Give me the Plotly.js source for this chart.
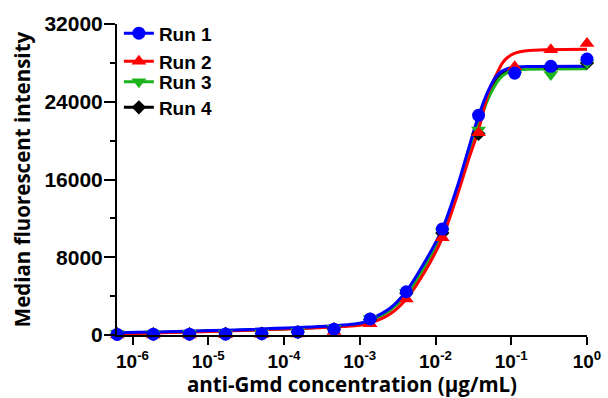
<!DOCTYPE html>
<html>
<head>
<meta charset="utf-8">
<script src="https://cdn.plot.ly/plotly-3.0.1.min.js"></script>
<style>html,body{margin:0;padding:0;background:#fff;}#chart{width:608px;height:398px;}</style>
</head>
<body>
<div id="chart"></div>
<script>
// Concentrations (µg/mL), 3-fold dilution series
var conc = [6.27e-7, 1.88e-6, 5.65e-6, 1.69e-5, 5.08e-5, 1.52e-4, 4.57e-4, 1.37e-3, 4.12e-3, 1.23e-2, 3.70e-2, 0.111, 0.333, 1];
var run1 = [60, 80, 90, 100, 130, 300, 600, 1650, 4450, 10900, 22600, 26950, 27650, 28400];
var run2 = [0, 0, 0, 20, 40, 100, 350, 1150, 3700, 10000, 20800, 27600, 29350, 30000];
var run3 = [150, 150, 150, 160, 200, 350, 700, 1700, 4400, 10600, 21100, 26900, 26800, 28000];
var run4 = [100, 100, 100, 120, 150, 300, 600, 1600, 4300, 10500, 20700, 27000, 27400, 28000];

// Fitted curves
var fitX = [6.3e-7, 1.0e-3, 1.41e-3, 2.51e-3, 4.07e-3, 7.08e-3, 1.23e-2, 2.0e-2, 2.69e-2, 3.72e-2, 5.01e-2, 6.46e-2, 7.59e-2, 8.91e-2, 0.112, 0.158, 1];
var fit1 = [240, 1200, 1650, 2750, 4450, 7400, 10900, 15600, 19000, 22600, 25200, 26700, 27150, 27400, 27550, 27620, 27650];
var fit2 = [100, 1000, 1250, 2150, 3650, 6400, 10000, 14700, 17900, 21200, 25000, 26900, 27950, 28550, 29000, 29250, 29400];
var fit3 = [160, 1100, 1500, 2550, 4100, 6900, 10400, 15000, 18300, 21700, 24400, 26000, 26650, 27000, 27250, 27350, 27400];
var fit4 = [150, 1100, 1500, 2600, 4200, 7000, 10600, 15200, 18500, 21900, 24600, 26200, 26850, 27200, 27400, 27500, 27550];

var names = ['Run 1', 'Run 2', 'Run 3', 'Run 4'];
var colors = ['#0000FF', '#FF0000', '#1DB31D', '#000000'];
var symbols = ['circle', 'triangle-up', 'triangle-down', 'diamond'];
var sizes = [13, 13, 13, 11];
var pts = [run1, run2, run3, run4];
var fits = [fit1, fit2, fit3, fit4];

var xTickVals = [1e-6, 1e-5, 1e-4, 1e-3, 1e-2, 1e-1, 1];
var xTickText = ['10<sup>-6</sup>', '10<sup>-5</sup>', '10<sup>-4</sup>', '10<sup>-3</sup>', '10<sup>-2</sup>', '10<sup>-1</sup>', '10<sup>0</sup>'];
var yTickVals = [0, 8000, 16000, 24000, 32000];
var yMinorVals = [4000, 12000, 20000, 28000];

var traces = [];
for (var i = 3; i >= 0; i--) {
  traces.push({x: fitX, y: fits[i], type: 'scatter', mode: 'lines', line: {color: colors[i], width: 3, shape: 'spline', smoothing: 0.8}, showlegend: false, hoverinfo: 'skip'});
}
for (var i = 3; i >= 0; i--) {
  traces.push({x: conc, y: pts[i], type: 'scatter', mode: 'markers', cliponaxis: false, marker: {color: colors[i], symbol: symbols[i], size: sizes[i]}, showlegend: false, name: names[i]});
}
var legNames = ['legend', 'legend2', 'legend3', 'legend4'];
for (var i = 0; i < 4; i++) {
  traces.push({x: [null], y: [null], type: 'scatter', mode: 'lines+markers', name: '<b>' + names[i] + '</b>', legend: legNames[i],
    line: {color: colors[i], width: 3}, marker: {color: colors[i], symbol: symbols[i], size: sizes[i]}});
}

var tickFontX = {family: 'Liberation Sans, Arial, sans-serif', size: 19, color: '#000', weight: 'bold'};
var tickFontY = {family: 'Liberation Sans, Arial, sans-serif', size: 21, color: '#000', weight: 'bold'};
var titleFont = {family: 'Open Sans, sans-serif', size: 20.5, color: '#000', weight: 'bold'};
var legFont = {family: 'Liberation Sans, Arial, sans-serif', size: 19, color: '#000', weight: 'bold'};

function leg(yp) {
  return {x: 0.004, y: yp, xanchor: 'left', yanchor: 'middle', bgcolor: 'rgba(0,0,0,0)', font: legFont, borderwidth: 0};
}

var layout = {
  width: 608, height: 398,
  margin: {l: 117, r: 21, t: 24, b: 63},
  paper_bgcolor: '#fff', plot_bgcolor: '#fff',
  showlegend: true,
  legend: leg(0.97), legend2: leg(0.88), legend3: leg(0.814), legend4: leg(0.7315),
  xaxis: {
    type: 'log', range: [-6.205, 0], showgrid: false, zeroline: false,
    showline: true, linecolor: '#000', linewidth: 2,
    ticks: 'outside', ticklen: 8, tickwidth: 2, tickcolor: '#000',
    tickvals: xTickVals, ticktext: xTickText, tickfont: tickFontX,
    title: {text: 'anti-Gmd concentration (µg/mL)', font: titleFont}
  },
  yaxis: {
    range: [0, 32000], showgrid: false, zeroline: false,
    showline: true, linecolor: '#000', linewidth: 2,
    ticks: 'outside', ticklen: 11, tickwidth: 2, tickcolor: '#000', ticklabelstandoff: -3,
    tickvals: yTickVals, ticktext: yTickVals.map(String), tickfont: tickFontY,
    minor: {tickvals: yMinorVals, ticks: 'outside', ticklen: 5, tickwidth: 2, tickcolor: '#000', showgrid: false},
    automargin: true,
    title: {text: 'Median fluorescent intensity', font: titleFont, standoff: 8}
  }
};

Plotly.newPlot('chart', traces, layout, {displayModeBar: false, staticPlot: true});
</script>
</body>
</html>
